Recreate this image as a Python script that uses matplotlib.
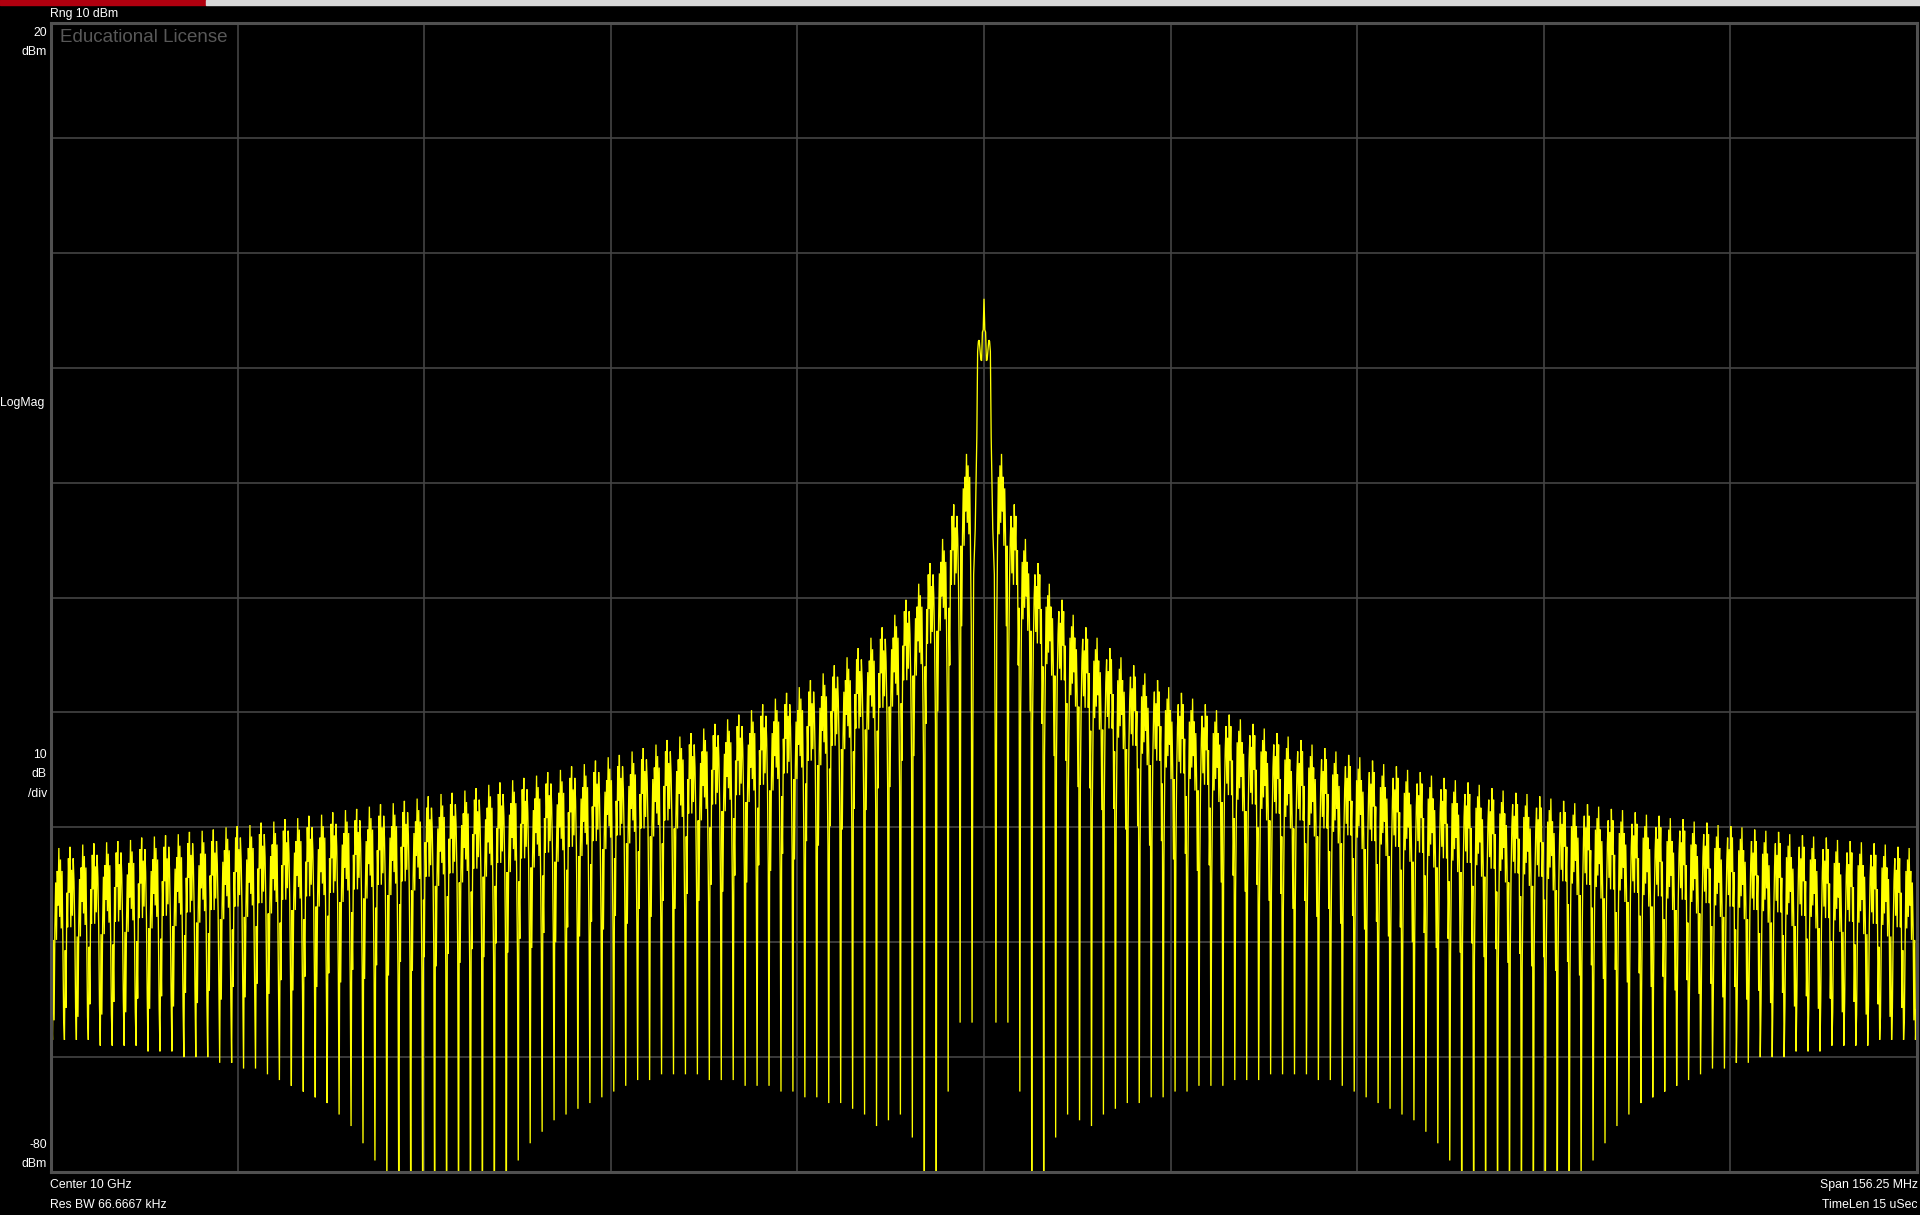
import numpy as np
import matplotlib
matplotlib.use("Agg")
import matplotlib.pyplot as plt
from matplotlib.patches import Rectangle

# ---- measurement settings -------------------------------------------------
CENTER_LABEL = "Center 10 GHz"
SPAN_LABEL = "Span 156.25 MHz"
RBW_LABEL = "Res BW 66.6667 kHz"
TIMELEN_LABEL = "TimeLen 15 uSec"
SPAN_MHZ = 156.25
BINS_PER_MHZ = 15          # 66.667 kHz bin spacing
Y_TOP, Y_BOTTOM = 20, -80  # dBm, 10 dB/div

# ---- trace levels (dBm) ----------------------------------------------------
# main lobe, bins 0..14 from the carrier (mirrored to the lower side)
main_lobe_dbm = [-4.0, -6.7, -6.9, -9.4, -9.3, -8.4, -7.6, -7.7, -8.6,
                 -16.0, -20.0, -24.0, -26.0, -28.0, -42.0]

# peak level of each 1 MHz side lobe, lobe k = 1..78 MHz offset
lobe_peak_dbm = [
    -17.5, -21.9, -24.9, -27.0, -28.8, -30.2, -31.5, -32.6, -33.5, -34.4,
    -35.2, -35.9, -36.6, -37.2, -37.8, -38.3, -38.8, -39.3, -39.8, -40.2,
    -40.6, -41.0, -41.4, -41.8, -42.1, -42.4, -42.8, -43.1, -43.4, -43.7,
    -43.9, -44.2, -44.5, -44.7, -45.0, -45.2, -45.5, -45.7, -45.9, -46.1,
    -46.3, -46.6, -46.8, -47.0, -47.1, -47.3, -47.5, -47.7, -47.9, -48.0,
    -48.2, -48.4, -48.5, -48.7, -48.9, -49.0, -49.2, -49.3, -49.5, -49.6,
    -49.8, -49.9, -50.0, -50.2, -50.3, -50.4, -50.6, -50.7, -50.8, -50.9,
    -51.1, -51.2, -51.3, -51.4, -51.5, -51.7, -51.8, -51.9]

# depth of the null at each integer MHz offset k = 1..78
null_dbm = [
    -67.0, -67.0, -73.0, -85.0, -85.0, -77.0, -75.0, -75.5, -76.0, -75.0,
    -74.5, -74.0, -74.0, -73.5, -73.5, -73.0, -73.0, -72.5, -72.5, -72.5,
    -72.0, -72.0, -72.0, -71.5, -71.5, -71.5, -71.5, -72.0, -72.0, -72.5,
    -73.0, -73.5, -74.0, -74.5, -75.0, -75.5, -76.5, -77.5, -79.0, -85.0,
    -85.0, -85.0, -85.0, -85.0, -85.0, -85.0, -85.0, -85.0, -85.0, -82.0,
    -79.0, -77.5, -76.0, -75.0, -74.0, -73.5, -73.0, -72.5, -72.0, -71.5,
    -71.0, -71.0, -70.5, -70.5, -70.0, -70.0, -70.0, -69.5, -69.5, -69.5,
    -69.0, -69.0, -69.0, -69.0, -68.5, -68.5, -68.5, -68.5]

# fine structure inside a side lobe, bins 1..14, dB relative to the lobe peak
lobe_shape_a = [-15, -8, -2, -7, -1, -6, 0, -5, -2, -8, -3, -7, -15, -8]
lobe_shape_b = [-14, -7, -3, -1, -6, -2, -7, 0, -4, -1, -7, -4, -14, -9]

# ---- build the trace -------------------------------------------------------
half_bins = int(SPAN_MHZ / 2 * BINS_PER_MHZ)
upper = []
for j in range(half_bins + 1):
    k, b = divmod(j, BINS_PER_MHZ)
    if k == 0:
        upper.append(main_lobe_dbm[b])
    elif b == 0:
        upper.append(null_dbm[k - 1])
    else:
        shape = lobe_shape_a if k % 2 else lobe_shape_b
        upper.append(lobe_peak_dbm[k - 1] + shape[b - 1])
upper = np.array(upper)
level = np.concatenate([upper[:0:-1], upper])
freq = np.arange(-half_bins, half_bins + 1) / BINS_PER_MHZ

# ---- figure ------------------------------------------------------------------
W, H = 1920, 1215
fig = plt.figure(figsize=(W / 100, H / 100), dpi=100, facecolor="black")

x0, x1, y0, y1 = 51, 1917, 23, 1172
ax = fig.add_axes([x0 / W, 1 - y1 / H, (x1 - x0) / W, (y1 - y0) / H])
ax.set_facecolor("black")
ax.plot(freq, level, color="#ffff00", lw=0.95, solid_joinstyle="miter")
ax.set_xlim(-SPAN_MHZ / 2, SPAN_MHZ / 2)
ax.set_ylim(Y_BOTTOM, Y_TOP)
ax.set_xticks(np.linspace(-SPAN_MHZ / 2, SPAN_MHZ / 2, 11))
ax.set_yticks(np.arange(Y_BOTTOM, Y_TOP + 1, 10))
ax.grid(True, color="#444444", lw=1.2)
ax.set_axisbelow(True)
ax.tick_params(length=0, labelbottom=False, labelleft=False)
for sp in ax.spines.values():
    sp.set_color("#505050")
    sp.set_linewidth(2.2)

# status bar across the top edge
fig.patches.append(Rectangle((0, 1 - 5 / H), 206 / W, 5 / H,
                             transform=fig.transFigure, color="#b0000f"))
fig.patches.append(Rectangle((206 / W, 1 - 5 / H), 1 - 206 / W, 5 / H,
                             transform=fig.transFigure, color="#d8d8d8"))

font = ["Liberation Sans Narrow", "Liberation Sans", "DejaVu Sans"]


def label(x, y, s, ha="left", color="white", size=8.8, **kw):
    fig.text(x / W, 1 - y / H, s, ha=ha, va="center", color=color,
             fontsize=size, family=font, **kw)


label(50, 14, "Rng 10 dBm")
label(60, 37, "Educational License", color="#585858", size=13.5)
label(47, 33, "20", ha="right")
label(47, 52, "dBm", ha="right")
label(0, 403, "LogMag")
label(47, 755, "10", ha="right")
label(47, 774, "dB", ha="right")
label(47, 794, "/div", ha="right")
label(47, 1145, "-80", ha="right")
label(47, 1164, "dBm", ha="right")
label(50, 1185, CENTER_LABEL)
label(50, 1205, RBW_LABEL)
label(1918, 1185, SPAN_LABEL, ha="right")
label(1918, 1205, TIMELEN_LABEL, ha="right")

fig.savefig("out.png", dpi=100, facecolor="black")
